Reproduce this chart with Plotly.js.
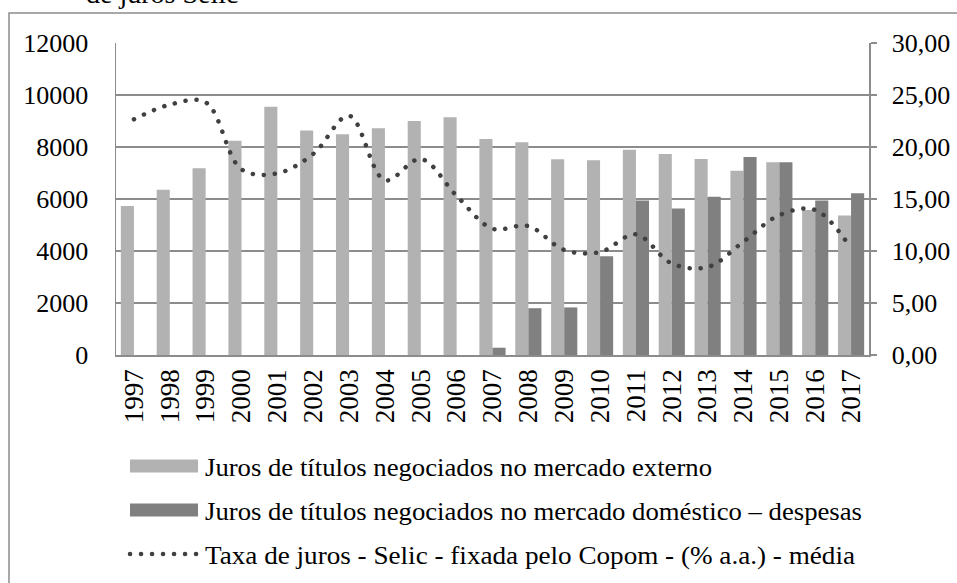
<!DOCTYPE html>
<html>
<head>
<meta charset="utf-8">
<script src="https://cdn.plot.ly/plotly-3.0.1.min.js"></script>
<style>
  html, body { margin: 0; padding: 0; background: #fff; }
  #chart { width: 957px; height: 583px; }
  .scatterlayer path.js-line, .legend path.js-line { stroke-linecap: round; }
</style>
</head>
<body>
<div id="chart"></div>
<script>
const years = ['1997','1998','1999','2000','2001','2002','2003','2004','2005','2006','2007',
               '2008','2009','2010','2011','2012','2013','2014','2015','2016','2017'];
const jurosExterno = [5730, 6360, 7180, 8240, 9550, 8630, 8490, 8720, 9000, 9140, 8310,
                      8180, 7530, 7490, 7890, 7730, 7540, 7090, 7410, 5580, 5370];
const jurosDomestico = [null, null, null, null, null, null, null, null, null, null, 280,
                        1800, 1830, 3800, 5940, 5630, 6090, 7620, 7410, 5940, 6220];
const selic = [22.66, 24.07, 24.3, 17.85, 17.47, 19.33, 23.0, 16.8, 18.85, 15.3, 12.15,
               12.4, 10.1, 9.9, 11.6, 8.8, 8.45, 10.9, 13.45, 13.95, 10.25];
const nameExterno = 'Juros de títulos negociados no mercado externo';
const nameDomestico = 'Juros de títulos negociados no mercado doméstico – despesas';
const nameSelic = 'Taxa de juros - Selic - fixada pelo Copom - (% a.a.) - média';

const FONT = 'Liberation Serif';
const GRID = '#8c8c8c';

const data = [
  { type: 'bar', x: years, y: jurosExterno, name: nameExterno, legendgroup: 'g1',
    marker: { color: '#b2b2b2' } },
  { type: 'bar', x: years, y: jurosDomestico, name: nameDomestico, legendgroup: 'g2',
    marker: { color: '#808080' } },
  { type: 'scatter', mode: 'lines', x: years, y: selic, yaxis: 'y2', name: nameSelic, legendgroup: 'g3',
    line: { color: '#404040', width: 4.5, shape: 'spline', smoothing: 1, dash: '0.1px,10.9px' } }
];

const PW = 753, PH = 312, L = 116, T = 43;
const px = v => (v - L) / PW;
const py = v => (T + PH - v) / PH;

const layout = {
  width: 957, height: 583,
  margin: { l: L, r: 957 - L - PW, t: T, b: 583 - T - PH, pad: 0, autoexpand: false },
  paper_bgcolor: '#fff', plot_bgcolor: '#fff',
  font: { family: FONT, size: 26, color: '#000' },
  separators: ',.',
  barmode: 'group', bargap: 0.27, bargroupgap: 0,
  showlegend: true,
  legend: { x: px(125), y: py(446), xanchor: 'left', yanchor: 'top', bgcolor: 'rgba(0,0,0,0)',
            borderwidth: 0, itemwidth: 70, traceorder: 'grouped', tracegroupgap: 8,
            font: { family: FONT, size: 26, color: '#000' } },
  xaxis: { type: 'category', tickangle: -90, showgrid: false, showline: true, linecolor: GRID, linewidth: 1.5,
           ticks: '', ticklabelstandoff: 2, tickfont: { family: FONT, size: 27 } },
  yaxis: { range: [0, 12000], dtick: 2000, tickformat: 'd', showgrid: true, gridcolor: GRID, gridwidth: 1.5,
           showline: true, linecolor: GRID, linewidth: 1.5, ticks: '', ticklabelstandoff: 21, zeroline: false,
           tickfont: { family: FONT, size: 26 } },
  yaxis2: { overlaying: 'y', side: 'right', range: [0, 30], dtick: 5, tickformat: '.2f', showgrid: false,
            showline: true, linecolor: GRID, linewidth: 1.5, ticks: 'outside', ticklen: 6, tickcolor: GRID,
            tickwidth: 1.5, ticklabelstandoff: 10, zeroline: false, tickfont: { family: FONT, size: 26 } },
  shapes: [
    { type: 'rect', xref: 'paper', yref: 'paper', x0: px(9), x1: px(1100), y0: py(700), y1: py(13),
      line: { color: GRID, width: 1.5 }, fillcolor: 'rgba(0,0,0,0)', layer: 'below' }
  ],
  annotations: [
    { xref: 'paper', yref: 'paper', x: px(84), y: py(11), xanchor: 'left', yanchor: 'bottom',
      text: 'de juros Selic', showarrow: false, font: { family: FONT, size: 28, color: '#000' } }
  ]
};

// legend look of the reference (positions in page pixels)
const legRowY = [466, 510, 554];
const legTextX = 205, legTextW = [507, 657, 650];
const legSymX0 = 130, legSymX1 = 198, legDotX0 = 130.5, legDotX1 = 188.5;

Plotly.newPlot('chart', data, layout, { staticPlot: true, displayModeBar: false }).then(gd => {
  gd.querySelectorAll('.legend .scrollbox').forEach(s => s.removeAttribute('clip-path'));
  const groups = gd.querySelectorAll('.legend g.traces');
  groups.forEach((g, i) => {
    const tr = g.getAttribute('transform') || '';
    const m = tr.match(/translate\(\s*([-\d.e]+)[ ,]+([-\d.e]+)\s*\)/);
    const ctm = g.getCTM();
    if (m && ctm && legRowY[i] !== undefined) {
      const nx = parseFloat(m[1]), ny = parseFloat(m[2]) + (legRowY[i] - ctm.f);
      g.setAttribute('transform', 'translate(' + nx + ',' + ny + ')');
    }
  });
  groups.forEach((g, i) => {
    const t = g.querySelector('text.legendtext');
    if (t) {
      const c = t.parentNode.getCTM();
      t.setAttribute('x', legTextX - c.e);
      t.setAttribute('textLength', legTextW[i]);
      t.setAttribute('lengthAdjust', 'spacingAndGlyphs');
    }
    g.querySelectorAll('.legendpoints path').forEach(p => {
      const c = p.getCTM();
      const d = (p.getAttribute('d') || '').replace(/\s/g, '');
      if (/^M6,6H-6V-6H6Z$/.test(d)) {
        const a = legSymX0 - c.e, b = legSymX1 - c.e;
        p.setAttribute('d', 'M' + b + ',6.5H' + a + 'V-6.5H' + b + 'Z');
      } else if (p.classList.contains('js-line')) {
        p.setAttribute('d', 'M' + (legDotX0 - c.e) + ',0H' + (legDotX1 - c.e));
      }
    });
  });
});
</script>
</body>
</html>
